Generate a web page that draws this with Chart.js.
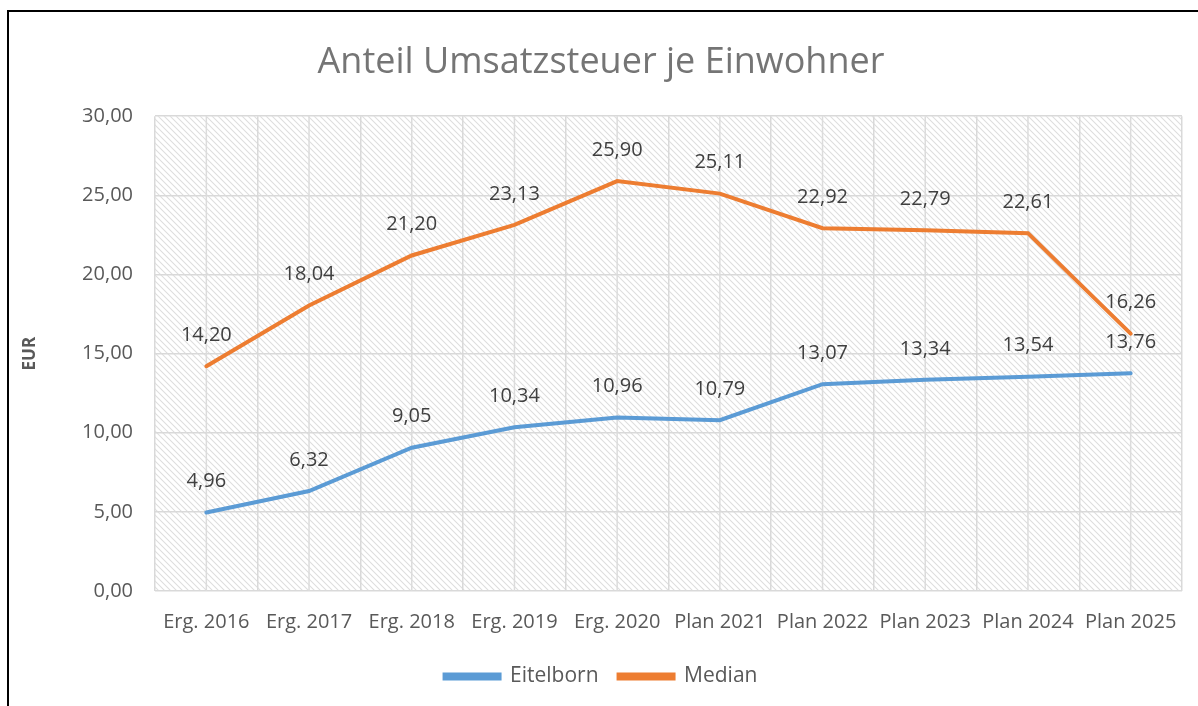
<!DOCTYPE html>
<html>
<head>
<meta charset="utf-8">
<script src="https://cdn.jsdelivr.net/npm/chart.js@4.4.1/dist/chart.umd.min.js"></script>
<style>
  html, body { margin: 0; padding: 0; background: #fff; }
  #wrap { position: relative; width: 1198px; height: 706px; }
  #frame { position: absolute; left: 7px; top: 10px; right: -5px; bottom: -5px;
           border-left: 2px solid #000; border-top: 2px solid #000; pointer-events: none; }
</style>
</head>
<body>
<div id="wrap">
  <canvas id="chart" width="1198" height="706"></canvas>
  <div id="frame"></div>
</div>
<script>
const categories = ['Erg. 2016', 'Erg. 2017', 'Erg. 2018', 'Erg. 2019', 'Erg. 2020',
                    'Plan 2021', 'Plan 2022', 'Plan 2023', 'Plan 2024', 'Plan 2025'];
const eitelborn = [4.96, 6.32, 9.05, 10.34, 10.96, 10.79, 13.07, 13.34, 13.54, 13.76];
const median = [14.20, 18.04, 21.20, 23.13, 25.90, 25.11, 22.92, 22.79, 22.61, 16.26];

const fontFamily = "'Open Sans', 'Noto Sans', sans-serif";
const fmt = v => v.toFixed(2).replace('.', ',');

// hatched plot background
function makeHatch() {
    const s = 6;
    const c = document.createElement('canvas');
    c.width = s; c.height = s;
    const g = c.getContext('2d');
    g.strokeStyle = '#dddddd';
    g.lineWidth = 1.1;
    for (const k of [-s, 0, s]) {
        g.beginPath();
        g.moveTo(-s, -s - k);
        g.lineTo(2 * s, 2 * s - k);
        g.stroke();
    }
    return c;
}

const hatchPlugin = {
    id: 'hatch',
    beforeDraw(chart) {
        const { ctx, chartArea: a } = chart;
        ctx.save();
        ctx.fillStyle = ctx.createPattern(makeHatch(), 'repeat');
        ctx.fillRect(a.left, a.top, a.right - a.left, a.bottom - a.top);
        ctx.restore();
    },
    beforeDatasetsDraw(chart) {
        // extra vertical lines at the category centres
        const { ctx, chartArea: a, scales: { x } } = chart;
        ctx.save();
        ctx.strokeStyle = '#dcdcdc';
        ctx.lineWidth = 1.5;
        categories.forEach((c, i) => {
            const px = x.getPixelForValue(i);
            ctx.beginPath();
            ctx.moveTo(px, a.top);
            ctx.lineTo(px, a.bottom);
            ctx.stroke();
        });
        ctx.restore();
    }
};

const labelPlugin = {
    id: 'valueLabels',
    afterDatasetsDraw(chart) {
        const ctx = chart.ctx;
        ctx.save();
        ctx.font = '20px ' + fontFamily;
        ctx.fillStyle = '#404040';
        ctx.textAlign = 'center';
        ctx.textBaseline = 'middle';
        chart.data.datasets.forEach((ds, di) => {
            chart.getDatasetMeta(di).data.forEach((pt, i) => {
                ctx.fillText(fmt(ds.data[i]), pt.x, pt.y - 31);
            });
        });
        ctx.restore();
    }
};

let myChart = new Chart(document.getElementById('chart'), {
    type: 'line',
    data: {
        labels: categories,
        datasets: [{
            label: 'Eitelborn',
            data: eitelborn,
            borderColor: '#5B9BD5',
            backgroundColor: '#5B9BD5',
            borderWidth: 4,
            borderCapStyle: 'round',
            pointRadius: 0,
            tension: 0
        }, {
            label: 'Median',
            data: median,
            borderColor: '#ED7D31',
            backgroundColor: '#ED7D31',
            borderWidth: 4,
            borderCapStyle: 'round',
            pointRadius: 0,
            tension: 0
        }]
    },
    options: {
        responsive: false,
        animation: false,
        layout: { padding: { left: 20, right: 16, top: 0, bottom: 9 } },
        scales: {
            x: {
                offset: true,
                afterFit: s => { s.height = 55; },
                grid: { offset: true, color: '#d9d9d9', lineWidth: 1.5, drawTicks: false },
                border: { display: false },
                ticks: { color: '#595959', font: { size: 20, family: fontFamily }, padding: 19, maxRotation: 0 }
            },
            y: {
                min: 0,
                max: 30,
                afterFit: s => { s.width = 135; },
                grid: { color: '#d9d9d9', lineWidth: 1.5, drawTicks: false },
                border: { display: false },
                ticks: {
                    stepSize: 5,
                    color: '#595959',
                    font: { size: 20, family: fontFamily },
                    padding: 22,
                    callback: v => fmt(v)
                },
                title: {
                    display: true,
                    text: 'EUR',
                    color: '#595959',
                    font: { size: 17, weight: 'bold', family: fontFamily },
                    padding: { top: 0, bottom: 0 }
                }
            }
        },
        plugins: {
            title: {
                display: true,
                text: 'Anteil Umsatzsteuer je Einwohner',
                color: '#757575',
                font: { size: 36, weight: 'normal', family: fontFamily },
                padding: { top: 41, bottom: 32 }
            },
            legend: {
                position: 'bottom',
                labels: {
                    color: '#595959',
                    font: { size: 21, family: fontFamily },
                    boxWidth: 55,
                    boxHeight: 4,
                    padding: 20
                }
            },
            tooltip: { enabled: false }
        }
    },
    plugins: [hatchPlugin, labelPlugin]
});
</script>
</body>
</html>
